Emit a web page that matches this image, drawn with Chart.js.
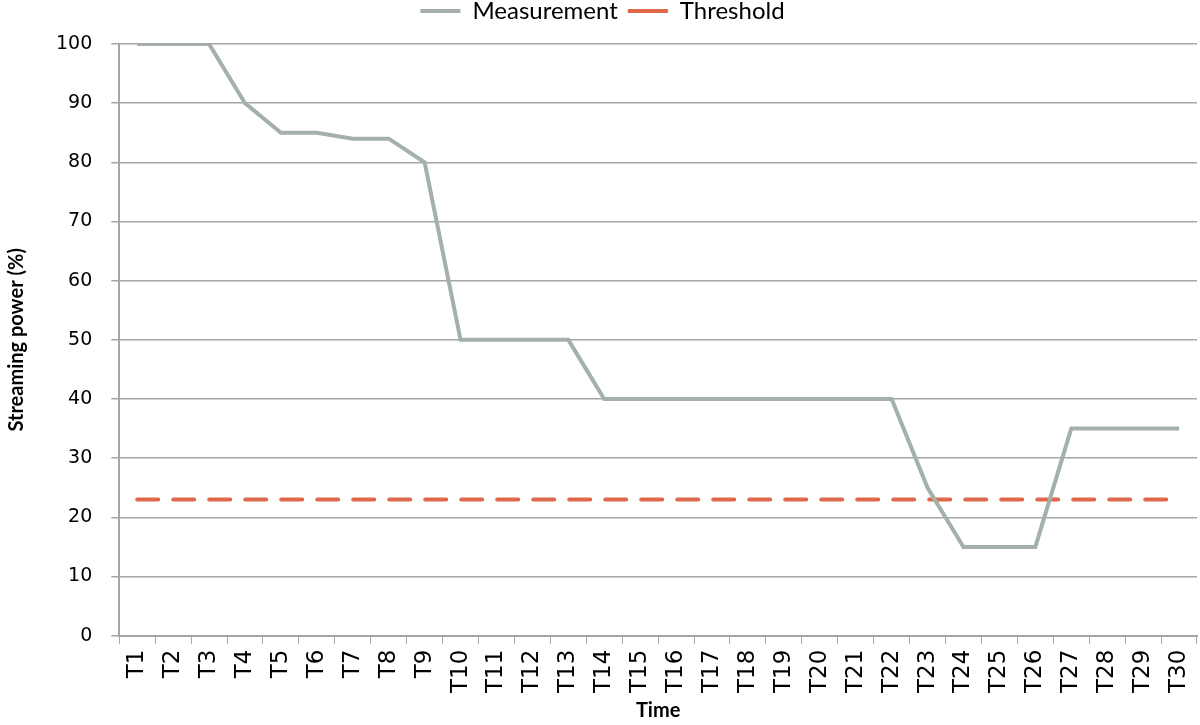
<!DOCTYPE html>
<html lang="en">
<head>
    <meta charset="UTF-8">
    <title>Streaming power</title>
    <script src="https://cdn.jsdelivr.net/npm/chart.js@4.4.0/dist/chart.umd.min.js"></script>
    <style>
        html, body {
            margin: 0;
            padding: 0;
            background: #ffffff;
        }
        .chart-container {
            width: 1200px;
            height: 725px;
        }
    </style>
</head>
<body>
    <div class="chart-container">
        <canvas id="power-chart"></canvas>
    </div>

    <script>
        // Data
        const timeLabels = ['T1', 'T2', 'T3', 'T4', 'T5', 'T6', 'T7', 'T8', 'T9', 'T10',
            'T11', 'T12', 'T13', 'T14', 'T15', 'T16', 'T17', 'T18', 'T19', 'T20',
            'T21', 'T22', 'T23', 'T24', 'T25', 'T26', 'T27', 'T28', 'T29', 'T30'];
        const measurement = [100, 100, 100, 90, 85, 85, 84, 84, 80, 50,
            50, 50, 50, 40, 40, 40, 40, 40, 40, 40,
            40, 40, 25, 15, 15, 15, 35, 35, 35, 35];
        const threshold = [23, 23, 23, 23, 23, 23, 23, 23, 23, 23,
            23, 23, 23, 23, 23, 23, 23, 23, 23, 23,
            23, 23, 23, 23, 23, 23, 23, 23, 23, 23];
        const yTicks = [0, 10, 20, 30, 40, 50, 60, 70, 80, 90, 100];

        const axisGrey = '#a6a6a6';

        // legend sits very close to the top edge in the original
        const raiseLegend = {
            id: 'raiseLegend',
            afterLayout: function (chart) {
                if (chart.legend) {
                    chart.legend.top -= 11;
                    chart.legend.bottom -= 11;
                }
            }
        };

        new Chart(document.getElementById('power-chart'), {
            type: 'line',
            data: {
                labels: timeLabels,
                datasets: [{
                    label: 'Measurement',
                    data: measurement,
                    borderColor: '#a3b1a8',
                    backgroundColor: '#a3b1a8',
                    borderWidth: 4,
                    pointRadius: 0,
                    tension: 0
                }, {
                    label: 'Threshold',
                    data: threshold,
                    borderColor: '#e0684a',
                    backgroundColor: '#e0684a',
                    borderWidth: 4,
                    borderDash: [21, 15],
                    borderCapStyle: 'round',
                    pointRadius: 0
                }]
            },
            options: {
                responsive: true,
                maintainAspectRatio: false,
                animation: false,
                layout: {
                    padding: { left: 5, right: 0, top: 0, bottom: 2 }
                },
                plugins: {
                    tooltip: { enabled: false },
                    legend: {
                        position: 'top',
                        labels: {
                            boxWidth: 40,
                            boxHeight: 0,
                            padding: 10,
                            color: '#000000',
                            font: { family: 'Lato', size: 24 }
                        }
                    }
                },
                scales: {
                    x: {
                        offset: true,
                        // keep the plot reaching the right edge like the original
                        afterFit: function (axis) {
                            axis.paddingRight = 3;
                        },
                        grid: {
                            offset: true,
                            drawOnChartArea: false,
                            drawTicks: true,
                            tickLength: 8,
                            color: axisGrey
                        },
                        border: { color: axisGrey, width: 2 },
                        ticks: {
                            autoSkip: false,
                            maxRotation: 90,
                            minRotation: 90,
                            color: '#000000',
                            padding: 6,
                            font: { family: 'DejaVu Sans', size: 23 }
                        },
                        title: {
                            display: true,
                            text: 'Time',
                            color: '#000000',
                            padding: { top: 0, bottom: 0 },
                            font: { family: 'Lato', size: 20, weight: 'bold' }
                        }
                    },
                    y: {
                        min: 0,
                        max: 100,
                        afterBuildTicks: function (axis) {
                            axis.ticks = yTicks.map(function (v) { return { value: v }; });
                        },
                        afterFit: function (axis) {
                            axis.paddingTop = 43;
                        },
                        grid: {
                            color: axisGrey,
                            lineWidth: 1.5,
                            tickLength: 8
                        },
                        border: { color: axisGrey, width: 2 },
                        ticks: {
                            color: '#000000',
                            padding: 19,
                            font: { family: 'DejaVu Sans', size: 19 }
                        },
                        title: {
                            display: true,
                            text: 'Streaming power (%)',
                            color: '#000000',
                            padding: { top: 0, bottom: 8 },
                            font: { family: 'Lato', size: 20, weight: 'bold' }
                        }
                    }
                }
            },
            plugins: [raiseLegend]
        });
    </script>
</body>
</html>
